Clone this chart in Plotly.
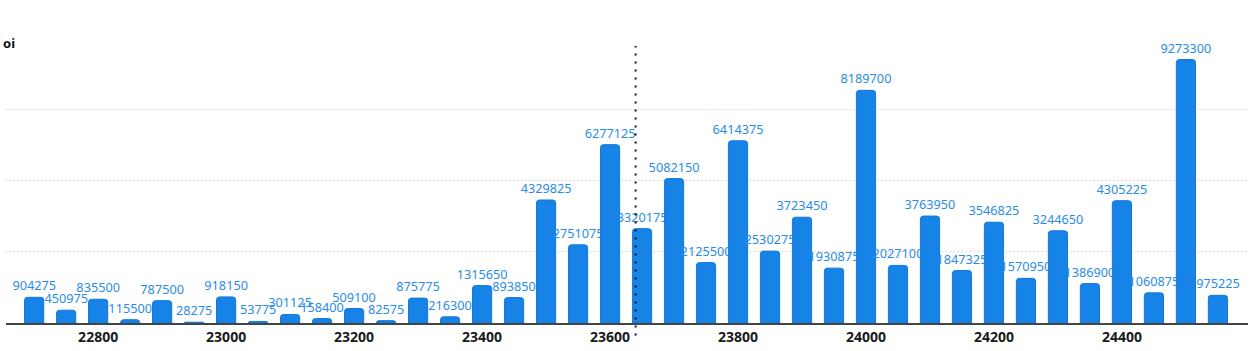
import plotly.graph_objects as go

strikes = [22700 + 50 * i for i in range(38)]
oi = [904275, 450975, 835500, 115500, 787500, 28275, 918150, 53775, 301125, 158400,
      509100, 82575, 875775, 216300, 1315650, 893850, 4329825, 2751075, 6277125, 3320175,
      5082150, 2125500, 6414375, 2530275, 3723450, 1930875, 8189700, 2027100, 3763950, 1847325,
      3546825, 1570950, 3244650, 1386900, 4305225, 1060875, 9273300, 975225]
spot = 23640
tick_vals = [22800, 23000, 23200, 23400, 23600, 23800, 24000, 24200, 24400]
tick_text = ["22800", "23000", "23200", "23400", "23600", "23800", "24000", "24200", "24400"]
grid_vals = [2500000, 5000000, 7500000]

fig = go.Figure()
fig.add_trace(go.Bar(
    x=strikes, y=oi, width=30,
    marker=dict(color="#1883e7", line=dict(color="#0f78dc", width=1)),
    text=[str(v) for v in oi], textposition="outside", constraintext="none",
    textfont=dict(family="Noto Sans", size=12.7, color="#2a8ce9"),
    cliponaxis=False,
))

fig.add_shape(type="line", xref="x", yref="paper", x0=spot, x1=spot, y0=-0.045, y1=1,
              line=dict(color="#111111", width=2, dash="2px,6px"))

fig.add_annotation(text="<b>oi</b>", xref="paper", yref="paper", x=-0.004, y=1.012,
                   xanchor="left", yanchor="middle", showarrow=False,
                   font=dict(family="Noto Sans", size=13, color="#111111"))

fig.update_layout(
    width=1253, height=351,
    margin=dict(l=6, r=5, t=46, b=26),
    plot_bgcolor="white", paper_bgcolor="white",
    showlegend=False, barcornerradius=3,
    font=dict(family="Noto Sans"),
)
fig.update_xaxes(range=[22656, 24597], tickvals=tick_vals, ticktext=tick_text, showgrid=False,
                 showline=True, linecolor="#444444", linewidth=2, zeroline=False,
                 tickfont=dict(family="Noto Sans", size=14, color="#1a1a1a", weight="bold"),
                 ticks="", ticklabelstandoff=0)
fig.update_yaxes(range=[0, 9750000], tickvals=grid_vals, showticklabels=False,
                 showgrid=True, gridcolor="#c4c4c4", gridwidth=1, griddash="1px,3px",
                 zeroline=False)

fig.write_html("out.html")
